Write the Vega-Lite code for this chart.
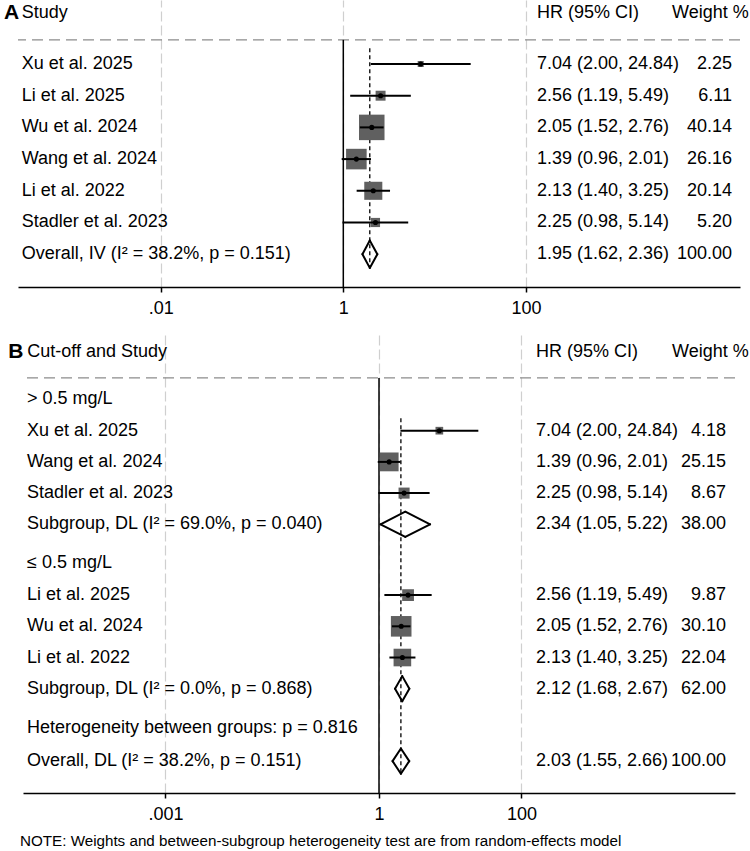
{
  "$schema": "https://vega.github.io/schema/vega-lite/v6.json",
  "padding": {"left": 4, "top": 0, "right": 5, "bottom": 5},
  "spacing": 48,
  "bounds": "flush",
  "center": true,
  "resolve": {"scale": {"x": "independent", "y": "independent", "size": "independent"}},
  "config": {
    "view": {"stroke": null},
    "font": "Liberation Sans",
    "text": {"font": "Liberation Sans", "fontSize": 18, "color": "black"},
    "axisX": {
      "grid": true, "gridColor": "#cfcfcf", "gridDash": [10, 4], "gridWidth": 1.2,
      "domainColor": "black", "domainWidth": 1.5, "tickColor": "black", "tickWidth": 1.5,
      "tickSize": 5, "labelFontSize": 18, "labelFont": "Liberation Sans", "labelColor": "black",
      "labelPadding": 7, "labelFlush": false, "labelOverlap": false
    }
  },
  "datasets": {
    "a": [
      {"label": "Xu et al. 2025", "row": 1, "est": 7.04, "lo": 2.00, "hi": 24.84, "ci": "7.04 (2.00, 24.84)", "weight": 2.25, "kind": "study"},
      {"label": "Li et al. 2025", "row": 2, "est": 2.56, "lo": 1.19, "hi": 5.49, "ci": "2.56 (1.19, 5.49)", "weight": 6.11, "kind": "study"},
      {"label": "Wu et al. 2024", "row": 3, "est": 2.05, "lo": 1.52, "hi": 2.76, "ci": "2.05 (1.52, 2.76)", "weight": 40.14, "kind": "study"},
      {"label": "Wang et al. 2024", "row": 4, "est": 1.39, "lo": 0.96, "hi": 2.01, "ci": "1.39 (0.96, 2.01)", "weight": 26.16, "kind": "study"},
      {"label": "Li et al. 2022", "row": 5, "est": 2.13, "lo": 1.40, "hi": 3.25, "ci": "2.13 (1.40, 3.25)", "weight": 20.14, "kind": "study"},
      {"label": "Stadler et al. 2023", "row": 6, "est": 2.25, "lo": 0.98, "hi": 5.14, "ci": "2.25 (0.98, 5.14)", "weight": 5.20, "kind": "study"},
      {"label": "Overall, IV (I² = 38.2%, p = 0.151)", "row": 7, "est": 1.95, "lo": 1.62, "hi": 2.36, "ci": "1.95 (1.62, 2.36)", "weight": 100.00, "kind": "overall"}
    ],
    "ahdr": [{"letter": "A", "study": "Study", "hr": "HR (95% CI)", "wt": "Weight %"}],
    "b": [
      {"label": "> 0.5 mg/L", "row": 0, "kind": "group"},
      {"label": "Xu et al. 2025", "row": 1, "est": 7.04, "lo": 2.00, "hi": 24.84, "ci": "7.04 (2.00, 24.84)", "weight": 4.18, "kind": "study"},
      {"label": "Wang et al. 2024", "row": 2, "est": 1.39, "lo": 0.96, "hi": 2.01, "ci": "1.39 (0.96, 2.01)", "weight": 25.15, "kind": "study"},
      {"label": "Stadler et al. 2023", "row": 3, "est": 2.25, "lo": 0.98, "hi": 5.14, "ci": "2.25 (0.98, 5.14)", "weight": 8.67, "kind": "study"},
      {"label": "Subgroup, DL (I² = 69.0%, p = 0.040)", "row": 4, "est": 2.34, "lo": 1.05, "hi": 5.22, "ci": "2.34 (1.05, 5.22)", "weight": 38.00, "kind": "overall"},
      {"label": "≤ 0.5 mg/L", "row": 5.24, "kind": "group"},
      {"label": "Li et al. 2025", "row": 6.27, "est": 2.56, "lo": 1.19, "hi": 5.49, "ci": "2.56 (1.19, 5.49)", "weight": 9.87, "kind": "study"},
      {"label": "Wu et al. 2024", "row": 7.27, "est": 2.05, "lo": 1.52, "hi": 2.76, "ci": "2.05 (1.52, 2.76)", "weight": 30.10, "kind": "study"},
      {"label": "Li et al. 2022", "row": 8.27, "est": 2.13, "lo": 1.40, "hi": 3.25, "ci": "2.13 (1.40, 3.25)", "weight": 22.04, "kind": "study"},
      {"label": "Subgroup, DL (I² = 0.0%, p = 0.868)", "row": 9.27, "est": 2.12, "lo": 1.68, "hi": 2.67, "ci": "2.12 (1.68, 2.67)", "weight": 62.00, "kind": "overall"},
      {"label": "Heterogeneity between groups: p = 0.816", "row": 10.53, "kind": "group"},
      {"label": "Overall, DL (I² = 38.2%, p = 0.151)", "row": 11.59, "est": 2.03, "lo": 1.55, "hi": 2.66, "ci": "2.03 (1.55, 2.66)", "weight": 100.00, "kind": "overall"}
    ],
    "bhdr": [{"letter": "B", "study": "Cut-off and Study", "hr": "HR (95% CI)", "wt": "Weight %"}]
  },
  "vconcat": [
    {
      "width": 722,
      "height": 287,
      "layer": [
        {
          "data": {"name": "ahdr"},
          "mark": {"type": "rule", "color": "#8c8c8c", "strokeDash": [11, 6], "strokeWidth": 1.3},
          "encoding": {
            "y": {"datum": 0.24, "type": "quantitative", "scale": {"domain": [-1.019, 8.035], "reverse": true, "nice": false, "zero": false}, "axis": null}
          }
        },
        {
          "data": {"name": "ahdr"},
          "mark": {"type": "rule", "color": "black", "strokeWidth": 1.5},
          "encoding": {
            "x": {"datum": 1, "type": "quantitative", "title": null, "scale": {"type": "log", "domain": [0.0002735, 22130], "nice": false}, "axis": {"values": [0.01, 1, 100], "labelExpr": "datum.value < 0.5 ? '.01' : datum.value < 5 ? '1' : '100'", "title": null}},
            "y": {"datum": 0.24, "type": "quantitative"},
            "y2": {"datum": 8.035}
          }
        },
        {
          "data": {"name": "ahdr"},
          "mark": {"type": "rule", "color": "black", "strokeWidth": 1.3, "strokeDash": [4, 3]},
          "encoding": {
            "x": {"datum": 1.95, "type": "quantitative", "title": null},
            "y": {"datum": 0.5, "type": "quantitative"},
            "y2": {"datum": 7.435}
          }
        },
        {
          "data": {"name": "a"},
          "transform": [{"filter": "datum.kind == 'study'"}],
          "mark": {"type": "point", "shape": "square", "filled": true, "color": "#606060", "opacity": 1},
          "encoding": {
            "x": {"field": "est", "type": "quantitative", "title": null},
            "y": {"field": "row", "type": "quantitative"},
            "size": {"field": "weight", "type": "quantitative", "scale": {"type": "linear", "domain": [0, 40.14], "range": [0, 650], "zero": true}, "legend": null}
          }
        },
        {
          "data": {"name": "a"},
          "transform": [{"filter": "datum.kind == 'study'"}],
          "mark": {"type": "rule", "color": "black", "strokeWidth": 2},
          "encoding": {
            "x": {"field": "lo", "type": "quantitative", "title": null},
            "x2": {"field": "hi"},
            "y": {"field": "row", "type": "quantitative"}
          }
        },
        {
          "data": {"name": "a"},
          "transform": [{"filter": "datum.kind == 'study'"}],
          "mark": {"type": "point", "shape": "circle", "filled": true, "color": "black", "opacity": 1, "size": 26},
          "encoding": {
            "x": {"field": "est", "type": "quantitative", "title": null},
            "y": {"field": "row", "type": "quantitative"}
          }
        },
        {
          "data": {"name": "a"},
          "transform": [{"filter": "datum.kind == 'overall'"}],
          "mark": {"type": "rule", "color": "black", "strokeWidth": 2, "strokeCap": "round", "y2Offset": -13.7},
          "encoding": {
            "x": {"field": "lo", "type": "quantitative", "title": null}, "x2": {"field": "est"},
            "y": {"field": "row", "type": "quantitative"}, "y2": {"field": "row"}
          }
        },
        {
          "data": {"name": "a"},
          "transform": [{"filter": "datum.kind == 'overall'"}],
          "mark": {"type": "rule", "color": "black", "strokeWidth": 2, "strokeCap": "round", "yOffset": -13.7},
          "encoding": {
            "x": {"field": "est", "type": "quantitative", "title": null}, "x2": {"field": "hi"},
            "y": {"field": "row", "type": "quantitative"}, "y2": {"field": "row"}
          }
        },
        {
          "data": {"name": "a"},
          "transform": [{"filter": "datum.kind == 'overall'"}],
          "mark": {"type": "rule", "color": "black", "strokeWidth": 2, "strokeCap": "round", "y2Offset": 13.7},
          "encoding": {
            "x": {"field": "hi", "type": "quantitative", "title": null}, "x2": {"field": "est"},
            "y": {"field": "row", "type": "quantitative"}, "y2": {"field": "row"}
          }
        },
        {
          "data": {"name": "a"},
          "transform": [{"filter": "datum.kind == 'overall'"}],
          "mark": {"type": "rule", "color": "black", "strokeWidth": 2, "strokeCap": "round", "yOffset": 13.7},
          "encoding": {
            "x": {"field": "est", "type": "quantitative", "title": null}, "x2": {"field": "lo"},
            "y": {"field": "row", "type": "quantitative"}, "y2": {"field": "row"}
          }
        },
        {
          "data": {"name": "a"},
          "mark": {"type": "text", "align": "left", "baseline": "middle"},
          "encoding": {
            "x": {"datum": 0.0003003, "type": "quantitative", "title": null},
            "y": {"field": "row", "type": "quantitative"},
            "text": {"field": "label"}
          }
        },
        {
          "data": {"name": "a"},
          "mark": {"type": "text", "align": "left", "baseline": "middle"},
          "encoding": {
            "x": {"datum": 132.3, "type": "quantitative", "title": null},
            "y": {"field": "row", "type": "quantitative"},
            "text": {"field": "ci"}
          }
        },
        {
          "data": {"name": "a"},
          "mark": {"type": "text", "align": "right", "baseline": "middle"},
          "encoding": {
            "x": {"datum": 18090, "type": "quantitative", "title": null},
            "y": {"field": "row", "type": "quantitative"},
            "text": {"field": "weight", "format": ".2f"}
          }
        },
        {
          "data": {"name": "ahdr"},
          "mark": {"type": "text", "align": "right", "baseline": "middle", "fontWeight": "bold", "fontSize": 21},
          "encoding": {
            "x": {"datum": 0.0002825, "type": "quantitative", "title": null},
            "y": {"datum": -0.61, "type": "quantitative"},
            "text": {"field": "letter"}
          }
        },
        {
          "data": {"name": "ahdr"},
          "mark": {"type": "text", "align": "left", "baseline": "middle"},
          "encoding": {
            "x": {"datum": 0.0003003, "type": "quantitative", "title": null},
            "y": {"datum": -0.61, "type": "quantitative"},
            "text": {"field": "study"}
          }
        },
        {
          "data": {"name": "ahdr"},
          "mark": {"type": "text", "align": "left", "baseline": "middle"},
          "encoding": {
            "x": {"datum": 132.3, "type": "quantitative", "title": null},
            "y": {"datum": -0.61, "type": "quantitative"},
            "text": {"field": "hr"}
          }
        },
        {
          "data": {"name": "ahdr"},
          "mark": {"type": "text", "align": "left", "baseline": "middle"},
          "encoding": {
            "x": {"datum": 3981, "type": "quantitative", "title": null},
            "y": {"datum": -0.61, "type": "quantitative"},
            "text": {"field": "wt"}
          }
        }
      ]
    },
    {
      "width": 712,
      "height": 458,
      "title": {"text": "NOTE: Weights and between-subgroup heterogeneity test are from random-effects model", "orient": "bottom", "anchor": "start", "frame": "group", "fontSize": 15.2, "fontWeight": "normal", "font": "Liberation Sans", "color": "black", "offset": 11, "dx": -3},
      "layer": [
        {
          "data": {"name": "bhdr"},
          "mark": {"type": "rule", "color": "#8c8c8c", "strokeDash": [11, 6], "strokeWidth": 1.3},
          "encoding": {
            "y": {"datum": -0.69, "type": "quantitative", "scale": {"domain": [-2.067, 12.612], "reverse": true, "nice": false, "zero": false}, "axis": null}
          }
        },
        {
          "data": {"name": "bhdr"},
          "mark": {"type": "rule", "color": "black", "strokeWidth": 1.5},
          "encoding": {
            "x": {"datum": 1, "type": "quantitative", "title": null, "scale": {"type": "log", "domain": [0.00001, 100000], "nice": false}, "axis": {"values": [0.001, 1, 100], "labelExpr": "datum.value < 0.5 ? '.001' : datum.value < 5 ? '1' : '100'", "title": null}},
            "y": {"datum": -0.69, "type": "quantitative"},
            "y2": {"datum": 12.612}
          }
        },
        {
          "data": {"name": "bhdr"},
          "mark": {"type": "rule", "color": "black", "strokeWidth": 1.3, "strokeDash": [4, 3]},
          "encoding": {
            "x": {"datum": 2.03, "type": "quantitative", "title": null},
            "y": {"datum": 0.6, "type": "quantitative"},
            "y2": {"datum": 12.0}
          }
        },
        {
          "data": {"name": "b"},
          "transform": [{"filter": "datum.kind == 'study'"}],
          "mark": {"type": "point", "shape": "square", "filled": true, "color": "#606060", "opacity": 1},
          "encoding": {
            "x": {"field": "est", "type": "quantitative", "title": null},
            "y": {"field": "row", "type": "quantitative"},
            "size": {"field": "weight", "type": "quantitative", "scale": {"type": "linear", "domain": [0, 30.10], "range": [0, 424], "zero": true}, "legend": null}
          }
        },
        {
          "data": {"name": "b"},
          "transform": [{"filter": "datum.kind == 'study'"}],
          "mark": {"type": "rule", "color": "black", "strokeWidth": 2},
          "encoding": {
            "x": {"field": "lo", "type": "quantitative", "title": null},
            "x2": {"field": "hi"},
            "y": {"field": "row", "type": "quantitative"}
          }
        },
        {
          "data": {"name": "b"},
          "transform": [{"filter": "datum.kind == 'study'"}],
          "mark": {"type": "point", "shape": "circle", "filled": true, "color": "black", "opacity": 1, "size": 26},
          "encoding": {
            "x": {"field": "est", "type": "quantitative", "title": null},
            "y": {"field": "row", "type": "quantitative"}
          }
        },
        {
          "data": {"name": "b"},
          "transform": [{"filter": "datum.kind == 'overall'"}],
          "mark": {"type": "rule", "color": "black", "strokeWidth": 2, "strokeCap": "round", "y2Offset": -12.6},
          "encoding": {
            "x": {"field": "lo", "type": "quantitative", "title": null}, "x2": {"field": "est"},
            "y": {"field": "row", "type": "quantitative"}, "y2": {"field": "row"}
          }
        },
        {
          "data": {"name": "b"},
          "transform": [{"filter": "datum.kind == 'overall'"}],
          "mark": {"type": "rule", "color": "black", "strokeWidth": 2, "strokeCap": "round", "yOffset": -12.6},
          "encoding": {
            "x": {"field": "est", "type": "quantitative", "title": null}, "x2": {"field": "hi"},
            "y": {"field": "row", "type": "quantitative"}, "y2": {"field": "row"}
          }
        },
        {
          "data": {"name": "b"},
          "transform": [{"filter": "datum.kind == 'overall'"}],
          "mark": {"type": "rule", "color": "black", "strokeWidth": 2, "strokeCap": "round", "y2Offset": 12.6},
          "encoding": {
            "x": {"field": "hi", "type": "quantitative", "title": null}, "x2": {"field": "est"},
            "y": {"field": "row", "type": "quantitative"}, "y2": {"field": "row"}
          }
        },
        {
          "data": {"name": "b"},
          "transform": [{"filter": "datum.kind == 'overall'"}],
          "mark": {"type": "rule", "color": "black", "strokeWidth": 2, "strokeCap": "round", "yOffset": 12.6},
          "encoding": {
            "x": {"field": "est", "type": "quantitative", "title": null}, "x2": {"field": "lo"},
            "y": {"field": "row", "type": "quantitative"}, "y2": {"field": "row"}
          }
        },
        {
          "data": {"name": "b"},
          "mark": {"type": "text", "align": "left", "baseline": "middle"},
          "encoding": {
            "x": {"datum": 0.00001138, "type": "quantitative", "title": null},
            "y": {"field": "row", "type": "quantitative"},
            "text": {"field": "label"}
          }
        },
        {
          "data": {"name": "b"},
          "transform": [{"filter": "isValid(datum.ci)"}],
          "mark": {"type": "text", "align": "left", "baseline": "middle"},
          "encoding": {
            "x": {"datum": 160.3, "type": "quantitative", "title": null},
            "y": {"field": "row", "type": "quantitative"},
            "text": {"field": "ci"}
          }
        },
        {
          "data": {"name": "b"},
          "transform": [{"filter": "isValid(datum.weight)"}],
          "mark": {"type": "text", "align": "right", "baseline": "middle"},
          "encoding": {
            "x": {"datum": 74800, "type": "quantitative", "title": null},
            "y": {"field": "row", "type": "quantitative"},
            "text": {"field": "weight", "format": ".2f"}
          }
        },
        {
          "data": {"name": "bhdr"},
          "mark": {"type": "text", "align": "right", "baseline": "middle", "fontWeight": "bold", "fontSize": 21},
          "encoding": {
            "x": {"datum": 0.0000101, "type": "quantitative", "title": null},
            "y": {"datum": -1.52, "type": "quantitative"},
            "text": {"field": "letter"}
          }
        },
        {
          "data": {"name": "bhdr"},
          "mark": {"type": "text", "align": "left", "baseline": "middle"},
          "encoding": {
            "x": {"datum": 0.0000115, "type": "quantitative", "title": null},
            "y": {"datum": -1.52, "type": "quantitative"},
            "text": {"field": "study"}
          }
        },
        {
          "data": {"name": "bhdr"},
          "mark": {"type": "text", "align": "left", "baseline": "middle"},
          "encoding": {
            "x": {"datum": 160.3, "type": "quantitative", "title": null},
            "y": {"datum": -1.52, "type": "quantitative"},
            "text": {"field": "hr"}
          }
        },
        {
          "data": {"name": "bhdr"},
          "mark": {"type": "text", "align": "left", "baseline": "middle"},
          "encoding": {
            "x": {"datum": 13030, "type": "quantitative", "title": null},
            "y": {"datum": -1.52, "type": "quantitative"},
            "text": {"field": "wt"}
          }
        }
      ]
    }
  ]
}
